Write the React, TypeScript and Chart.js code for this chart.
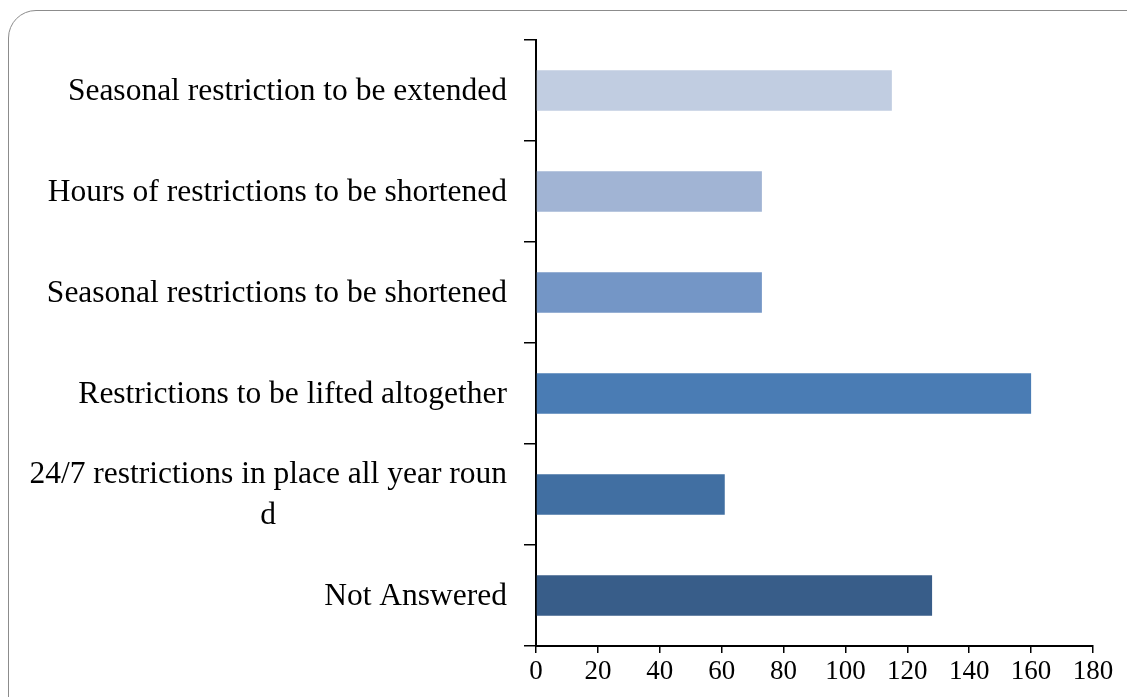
import React, { useEffect, useRef } from "react";
import { Chart, registerables } from "chart.js";

Chart.register(...registerables);

const categories: (string | string[])[] = [
  "Seasonal restriction to be extended",
  "Hours of restrictions to be shortened",
  "Seasonal restrictions to be shortened",
  "Restrictions to be lifted altogether",
  ["24/7 restrictions in place all year roun", "d"],
  "Not Answered",
];
const values = [115, 73, 73, 160, 61, 128];
const barColors = ["#C1CDE1", "#A1B4D4", "#7496C6", "#4A7CB4", "#416FA2", "#385D89"];
const xTicks = [0, 20, 40, 60, 80, 100, 120, 140, 160, 180];

const FONT_FAMILY = "'Liberation Serif', serif";
const LABEL_SIZE = 31.5;
const TICK_SIZE = 27;

const labelPlugin = {
  id: "rightBlockLabels",
  afterDraw(chart: any) {
    const ctx = chart.ctx;
    const yScale = chart.scales.y;
    const rightEdge = yScale.right - 29;
    ctx.save();
    ctx.font = `${LABEL_SIZE}px ${FONT_FAMILY}`;
    ctx.fillStyle = "#000000";
    ctx.textBaseline = "middle";
    ctx.textAlign = "center";
    const lineH = LABEL_SIZE * 1.3;
    categories.forEach((lab, i) => {
      const lines = Array.isArray(lab) ? lab : [lab];
      const maxW = Math.max(...lines.map((l) => ctx.measureText(l).width));
      const cx = rightEdge - maxW / 2;
      const cy = yScale.getPixelForTick(i) + 1;
      const startY = cy - ((lines.length - 1) * lineH) / 2;
      lines.forEach((l, k) => ctx.fillText(l, cx, startY + k * lineH));
    });
    ctx.restore();
  },
};

export default function App() {
  const canvasRef = useRef<HTMLCanvasElement | null>(null);

  useEffect(() => {
    document.body.style.margin = "0";
    document.body.style.overflow = "hidden";
    const canvas = canvasRef.current;
    if (!canvas) return;
    const chart = new Chart(canvas, {
      type: "bar",
      data: {
        labels: categories,
        datasets: [
          {
            data: values,
            backgroundColor: barColors,
            borderWidth: 0,
            categoryPercentage: 1,
            barPercentage: 0.4,
          },
        ],
      },
      plugins: [labelPlugin],
      options: {
        indexAxis: "y",
        responsive: false,
        animation: false,
        layout: { padding: { top: 40, right: 34, left: 0, bottom: 0 } },
        plugins: {
          legend: { display: false },
          tooltip: { enabled: false },
        },
        scales: {
          x: {
            min: 0,
            max: 180,
            afterBuildTicks: (scale: any) => {
              scale.ticks = xTicks.map((v) => ({ value: v }));
            },
            afterFit: (scale: any) => {
              scale.height = 51;
            },
            grid: {
              drawOnChartArea: false,
              drawTicks: true,
              tickLength: 7,
              color: "#000000",
              lineWidth: 1.5,
            },
            border: { display: true, color: "#000000", width: 2 },
            ticks: {
              color: "#000000",
              font: { family: FONT_FAMILY, size: TICK_SIZE },
              padding: 3,
              maxRotation: 0,
              autoSkip: false,
            },
          },
          y: {
            afterFit: (scale: any) => {
              scale.width = 536;
            },
            grid: {
              drawOnChartArea: false,
              drawTicks: true,
              tickLength: 12,
              color: "#000000",
              lineWidth: 1.5,
              offset: true,
            },
            border: { display: true, color: "#000000", width: 2 },
            ticks: {
              color: "rgba(0,0,0,0)",
              font: { family: FONT_FAMILY, size: 20 },
              autoSkip: false,
            },
          },
        },
      },
    });
    return () => chart.destroy();
  }, []);

  return (
    <div style={{ position: "relative", width: 1127, height: 697, overflow: "hidden" }}>
      <div
        style={{
          position: "absolute",
          left: 8,
          top: 10,
          width: 1160,
          height: 720,
          border: "1.5px solid #8c8c8c",
          borderRadius: 28,
          background: "#ffffff",
        }}
      />
      <canvas
        ref={canvasRef}
        width={1127}
        height={697}
        style={{ position: "absolute", left: 0, top: 0 }}
      />
    </div>
  );
}
